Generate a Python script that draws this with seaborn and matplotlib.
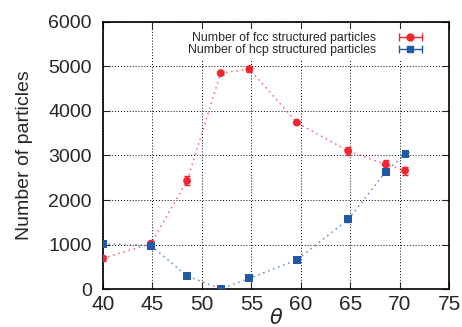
import numpy as np
import pandas as pd
import matplotlib
matplotlib.use("Agg")
import matplotlib.pyplot as plt
import seaborn as sns
from matplotlib.container import ErrorbarContainer
from matplotlib.legend_handler import HandlerErrorbar

# ---- data ----
theta_fcc = [40.0, 44.85, 48.5, 51.9, 54.8, 59.6, 64.8, 68.6, 70.55]
n_fcc = [690, 1020, 2430, 4850, 4940, 3740, 3100, 2800, 2660]
err_fcc = [50, 50, 100, 40, 60, 40, 90, 90, 90]

theta_hcp = [40.0, 44.85, 48.5, 51.9, 54.8, 59.6, 64.8, 68.6, 70.6]
n_hcp = [1020, 975, 295, 5, 240, 655, 1565, 2635, 3035]
err_hcp = [30, 40, 30, 20, 30, 30, 60, 60, 40]

x_ticks = [40, 45, 50, 55, 60, 65, 70, 75]
y_ticks = [0, 1000, 2000, 3000, 4000, 5000, 6000]

lbl_fcc = "Number of fcc structured particles"
lbl_hcp = "Number of hcp structured particles"
red = "#f0252d"
blue = "#2158a8"

df = pd.concat([
    pd.DataFrame({"theta": theta_fcc, "n": n_fcc, "err": err_fcc, "s": "fcc"}),
    pd.DataFrame({"theta": theta_hcp, "n": n_hcp, "err": err_hcp, "s": "hcp"}),
])

sns.set_style("ticks")
plt.rcParams["font.family"] = ["Liberation Sans", "DejaVu Sans"]

fig = plt.figure(figsize=(4.62, 3.27), dpi=100)
ax = fig.add_axes([0.223, 0.116, 0.749, 0.817])

sns.lineplot(data=df, x="theta", y="n", hue="s", palette={"fcc": red, "hcp": blue},
             linestyle=(0, (1, 2.5)), lw=1.1, alpha=0.7, legend=False, ax=ax,
             sort=False, estimator=None)
sns.scatterplot(data=df, x="theta", y="n", hue="s", style="s",
                markers={"fcc": "o", "hcp": "s"},
                palette={"fcc": red, "hcp": blue}, s=32, linewidth=0,
                legend=False, ax=ax, zorder=4)
ax.errorbar(theta_fcc, n_fcc, yerr=err_fcc, fmt="none", ecolor=red, capsize=2.5,
            elinewidth=1, zorder=3)
ax.errorbar(theta_hcp, n_hcp, yerr=err_hcp, fmt="none", ecolor=blue, capsize=2.5,
            elinewidth=1, zorder=3)

# legend handles (horizontal error bar samples like gnuplot)
h1 = ax.errorbar([np.nan], [np.nan], xerr=[1], fmt="o", color=red, ms=5,
                 capsize=3, elinewidth=1, label=lbl_fcc)
h2 = ax.errorbar([np.nan], [np.nan], xerr=[1], fmt="s", color=blue, ms=5,
                 capsize=3, elinewidth=1, label=lbl_hcp)
leg = ax.legend(handles=[h1, h2], loc="upper right", bbox_to_anchor=(0.99, 0.995),
                markerfirst=False, fontsize=8.8, frameon=True, framealpha=1,
                edgecolor="none", facecolor="white", handlelength=4.4,
                handletextpad=0.6, labelspacing=0.05, borderpad=0.2,
                handler_map={ErrorbarContainer: HandlerErrorbar(xerr_size=0.95)})
leg.set_zorder(5)

ax.set_xlim(40, 75)
ax.set_ylim(0, 6000)
ax.set_xticks(x_ticks)
ax.set_yticks(y_ticks)
ax.grid(True, color="black", linestyle=(0, (1, 2)), lw=0.7)
ax.tick_params(direction="in", top=True, right=True, length=5, width=0.8,
               labelsize=14, pad=8)
ax.tick_params(axis="x", labelsize=15, pad=4)
for sp in ax.spines.values():
    sp.set_linewidth(1.2)
    sp.set_color("black")
ax.set_xlabel(r"$\theta$", fontsize=15, labelpad=-4)
ax.set_ylabel("Number of particles", fontsize=14, labelpad=11)

fig.savefig("out.png", dpi=100)
